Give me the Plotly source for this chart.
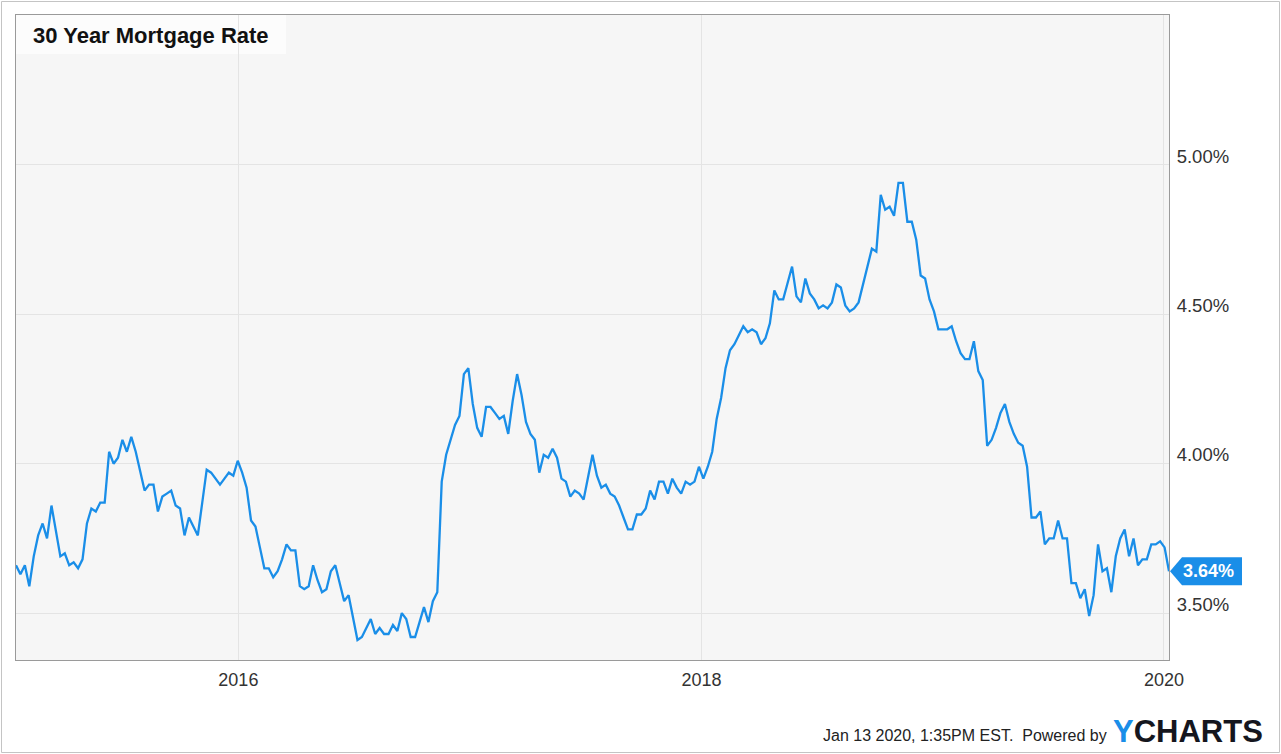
import plotly.graph_objects as go
import pandas as pd

# Weekly 30-year fixed mortgage rate (%), first week 2015-01-15
rates_2015 = [3.66, 3.63, 3.66, 3.59, 3.69, 3.76, 3.80, 3.75, 3.86, 3.78, 3.69,
              3.70, 3.66, 3.67, 3.65, 3.68, 3.80, 3.85, 3.84, 3.87, 3.87, 4.04,
              4.00, 4.02, 4.08, 4.04, 4.09, 4.04, 3.98, 3.91, 3.93, 3.93, 3.84,
              3.89, 3.90, 3.91, 3.86, 3.85, 3.76, 3.82, 3.79, 3.76, 3.87, 3.98,
              3.97, 3.95, 3.93, 3.95, 3.97, 3.96, 4.01]
rates_2016 = [3.97, 3.92, 3.81, 3.79, 3.72, 3.65, 3.65, 3.62, 3.64, 3.68, 3.73,
              3.71, 3.71, 3.59, 3.58, 3.59, 3.66, 3.61, 3.57, 3.58, 3.64, 3.66,
              3.60, 3.54, 3.56, 3.48, 3.41, 3.42, 3.45, 3.48, 3.43, 3.45, 3.43,
              3.43, 3.46, 3.44, 3.50, 3.48, 3.42, 3.42, 3.47, 3.52, 3.47, 3.54,
              3.57, 3.94, 4.03, 4.08, 4.13, 4.16, 4.30, 4.32]
rates_2017 = [4.20, 4.12, 4.09, 4.19, 4.19, 4.17, 4.15, 4.16, 4.10, 4.21, 4.30,
              4.23, 4.14, 4.10, 4.08, 3.97, 4.03, 4.02, 4.05, 4.02, 3.95, 3.94,
              3.89, 3.91, 3.90, 3.88, 3.96, 4.03, 3.96, 3.92, 3.93, 3.90, 3.89,
              3.86, 3.82, 3.78, 3.78, 3.83, 3.83, 3.85, 3.91, 3.88, 3.94, 3.94,
              3.90, 3.95, 3.92, 3.90, 3.94, 3.93, 3.94, 3.99]
rates_2018 = [3.95, 3.99, 4.04, 4.15, 4.22, 4.32, 4.38, 4.40, 4.43, 4.46, 4.44,
              4.45, 4.44, 4.40, 4.42, 4.47, 4.58, 4.55, 4.55, 4.61, 4.66, 4.56,
              4.54, 4.62, 4.57, 4.55, 4.52, 4.53, 4.52, 4.54, 4.60, 4.59, 4.53,
              4.51, 4.52, 4.54, 4.60, 4.65, 4.72, 4.71, 4.90, 4.85, 4.86, 4.83,
              4.94, 4.94, 4.81, 4.81, 4.75, 4.63, 4.62, 4.55]
rates_2019 = [4.51, 4.45, 4.45, 4.45, 4.46, 4.41, 4.37, 4.35, 4.35, 4.41, 4.31,
              4.28, 4.06, 4.08, 4.12, 4.17, 4.20, 4.14, 4.10, 4.07, 4.06, 3.99,
              3.82, 3.82, 3.84, 3.73, 3.75, 3.75, 3.81, 3.75, 3.75, 3.60, 3.60,
              3.55, 3.58, 3.49, 3.56, 3.73, 3.64, 3.65, 3.57, 3.69, 3.75, 3.78,
              3.69, 3.75, 3.66, 3.68, 3.68, 3.73, 3.73, 3.74]
rates_2020 = [3.72, 3.64]

first_week = "2015-01-15"
x_tick_dates = ["2016-01-01", "2018-01-01", "2020-01-01"]
x_tick_labels = ["2016", "2018", "2020"]
y_ticks = [3.5, 4.0, 4.5, 5.0]
y_tick_labels = ["3.50%", "4.00%", "4.50%", "5.00%"]
title_text = "30 Year Mortgage Rate"
footer_text = "Jan 13 2020, 1:35PM EST.&nbsp; Powered by"

rates = rates_2015 + rates_2016 + rates_2017 + rates_2018 + rates_2019 + rates_2020
dates = pd.date_range(first_week, periods=len(rates), freq="7D")
last_val = rates[-1]

BLUE = "#1a8ee8"
FONT = "Liberation Sans, Arial, sans-serif"

# plot area in pixels: x 16..1169, y 15..660
L, R, T, B = 16, 1169, 15, 660
W, H = R - L, B - T
def px(x):
    return (x - L) / W
def py(y):
    return (B - y) / H

fig = go.Figure()
fig.add_trace(go.Scatter(x=dates, y=rates, mode="lines",
                         line=dict(color=BLUE, width=2.3), hoverinfo="x+y",
                         showlegend=False))

fig.update_layout(
    width=1281, height=754,
    margin=dict(l=L, r=1281 - R, t=T, b=754 - B, autoexpand=False),
    paper_bgcolor="white", plot_bgcolor="#f6f6f6",
    font=dict(family=FONT, color="#333333"),
    xaxis=dict(range=[dates[0], dates[-1]], tickvals=x_tick_dates,
               ticktext=x_tick_labels, showgrid=True, gridcolor="#e4e4e4",
               gridwidth=1, showline=True, mirror=True, linecolor="#9a9a9a",
               linewidth=1, ticks="", tickfont=dict(size=18, color="#333333"),
               ticklabelstandoff=3, zeroline=False, fixedrange=True),
    yaxis=dict(range=[3.343, 5.502], side="right", tickvals=y_ticks,
               ticktext=y_tick_labels, showgrid=True, gridcolor="#e4e4e4",
               gridwidth=1, showline=True, mirror=True, linecolor="#9a9a9a",
               linewidth=1, ticks="", tickfont=dict(size=18.5, color="#333333"),
               ticklabelposition="outside top", ticklabelstandoff=3,
               ticklabelshift=4, zeroline=False, fixedrange=True),
    shapes=[
        # outer frame
        dict(type="rect", xref="paper", yref="paper",
             x0=px(1.5), x1=px(1279.5), y0=py(752.5), y1=py(1.5),
             line=dict(color="#c4c4c4", width=1), fillcolor="rgba(0,0,0,0)",
             layer="below"),
        # title box
        dict(type="rect", xref="paper", yref="paper",
             x0=0, x1=px(286), y0=py(54), y1=1,
             line=dict(width=0), fillcolor="rgba(255,255,255,0.7)",
             layer="between"),
        # last value callout
        dict(type="path", xref="paper", yref="y", xsizemode="pixel",
             ysizemode="pixel", xanchor=1, yanchor=last_val,
             path="M 1,0 L 13,14 L 73,14 L 73,-14 L 13,-14 Z",
             fillcolor=BLUE, line=dict(width=0), layer="above"),
    ],
    annotations=[
        dict(text="<b>" + title_text + "</b>", xref="paper", yref="paper",
             x=px(31), y=py(35), xanchor="left", yanchor="middle",
             showarrow=False, font=dict(size=22, color="#111111", family=FONT)),
        dict(text="<b>%.2f%%</b>" % last_val, xref="paper", yref="y",
             x=1, y=last_val, xanchor="left", yanchor="middle", xshift=12,
             showarrow=False, font=dict(size=18, color="white", family=FONT)),
        dict(text=footer_text, xref="paper", yref="paper",
             x=px(1109), y=py(735), xanchor="right", yanchor="middle",
             showarrow=False, font=dict(size=16, color="#222222", family=FONT)),
        dict(text="<b><span style='color:%s'>Y</span>CHARTS</b>" % BLUE,
             xref="paper", yref="paper", x=px(1111), y=py(731),
             xanchor="left", yanchor="middle", showarrow=False,
             font=dict(size=31, color="#15161e", family=FONT)),
    ],
)

fig.write_html("out.html", config={"displayModeBar": False})
